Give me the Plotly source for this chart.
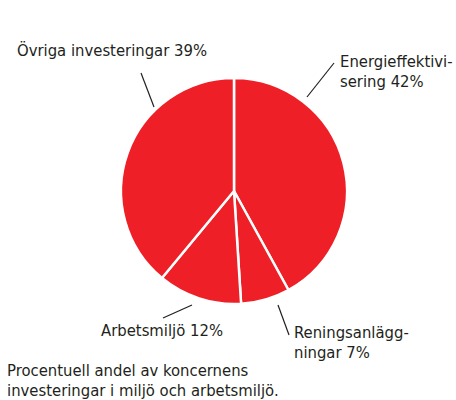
import plotly.graph_objects as go

labels = ["Energieffektivisering", "Reningsanläggningar", "Arbetsmiljö", "Övriga investeringar"]
values = [42, 7, 12, 39]
# label text lines for each slice
label_lines = [["Energieffektivi-", "sering 42%"],
               ["Reningsanlägg-", "ningar 7%"],
               ["Arbetsmiljö 12%"],
               ["Övriga investeringar 39%"]]
caption_lines = ["Procentuell andel av koncernens", "investeringar i miljö och arbetsmiljö."]

W, H = 456, 400
FONT = "Liberation Sans Narrow, DejaVu Sans Condensed, Arial Narrow, sans-serif"
TXT = "#231f20"
RED = "#ee1f26"
FS = 16.5
LH = 19.5  # line spacing in px

cx, cy, r = 234, 191, 113

fig = go.Figure()
fig.add_trace(go.Pie(
    labels=labels, values=values, sort=False, direction="clockwise", rotation=0,
    marker=dict(colors=[RED] * 4, line=dict(color="white", width=2.5)),
    textinfo="none", hoverinfo="label+percent", showlegend=False,
    domain=dict(x=[(cx - r) / W, (cx + r) / W], y=[1 - (cy + r) / H, 1 - (cy - r) / H]),
))

# leader lines in pixel positions
leaders = [(334, 63, 307, 97), (278, 305, 289, 335), (163, 318, 192, 305), (141, 73, 154, 107)]
for x0, y0, x1, y1 in leaders:
    fig.add_shape(type="line", xref="paper", yref="paper",
                  x0=x0 / W, y0=1 - y0 / H, x1=x1 / W, y1=1 - y1 / H,
                  line=dict(color=TXT, width=1.2))


def put_lines(lines, x, y, xa):
    for i, t in enumerate(lines):
        fig.add_annotation(text=t, x=x / W, y=1 - (y + i * LH) / H, xref="paper", yref="paper",
                           xanchor=xa, yanchor="middle", showarrow=False,
                           font=dict(family=FONT, size=FS, color=TXT))


# label anchors: x, y of first line centre (pixels), xanchor
anchors = [(338, 61.5, "left"), (292, 332.5, "left"), (225, 330, "right"), (15, 51, "left")]
for lines, (x, y, xa) in zip(label_lines, anchors):
    put_lines(lines, x, y, xa)

put_lines(caption_lines, 5, 370.5, "left")

fig.update_layout(width=W, height=H, margin=dict(l=0, r=0, t=0, b=0),
                  paper_bgcolor="white", plot_bgcolor="white")
fig.write_html("out.html", config={"displayModeBar": False},
               post_script="document.body.style.margin='0';")
